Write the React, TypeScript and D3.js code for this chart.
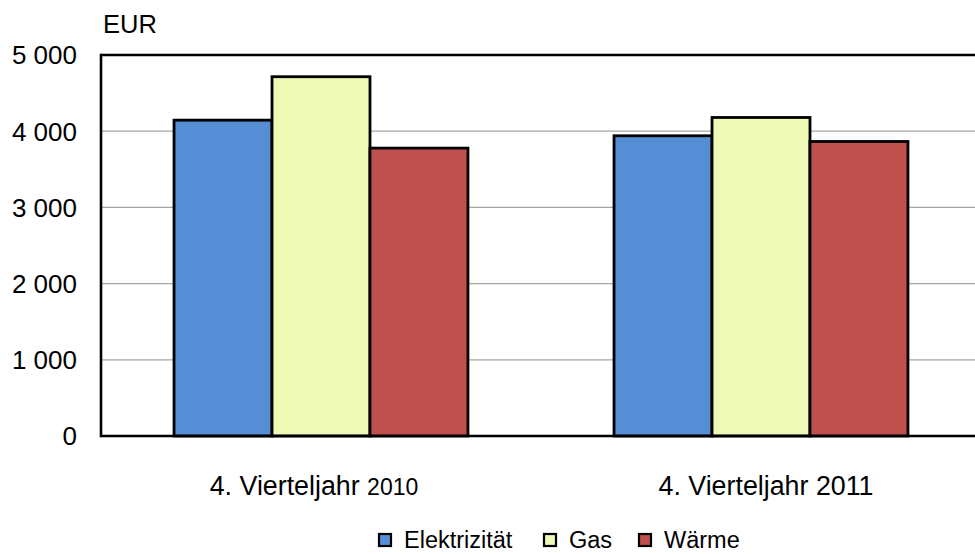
import React from "react";
import * as d3 from "d3";

const categories = ["4. Vierteljahr 2010", "4. Vierteljahr 2011"];
const seriesNames = ["Elektrizität", "Gas", "Wärme"];
const elektrizitaet = [4145, 3940];
const gas = [4715, 4180];
const waerme = [3778, 3865];
const yTicks = [0, 1000, 2000, 3000, 4000, 5000];

const colors = ["#558ed5", "#eff9b6", "#c0504d"];

const width = 975;
const height = 554;
const margin = { top: 55, right: -6, bottom: 118, left: 101 };

// small horizontal nudges of the category labels, as in the original
const labelShift = [-7, 5];

export default function App() {
  const values = [elektrizitaet, gas, waerme];

  const x0 = d3
    .scaleBand()
    .domain(categories)
    .range([margin.left, width - margin.right])
    .paddingInner(0.332)
    .paddingOuter(0.166);

  const x1 = d3
    .scaleBand()
    .domain(seriesNames)
    .range([0, x0.bandwidth()]);

  const y = d3
    .scaleLinear()
    .domain([0, 5000])
    .range([height - margin.bottom, margin.top]);

  const fmt = (v: number) => d3.format(",")(v).replace(",", " ");

  const legendX = [378, 543, 638];

  return (
    <svg
      width={width}
      height={height}
      style={{ position: "absolute", left: 0, top: 0 }}
      fontFamily="'Liberation Sans', Arial, sans-serif"
    >
      <rect width={width} height={height} fill="#ffffff" />
      {/* gridlines */}
      {yTicks.slice(1, -1).map((t) => (
        <line
          key={t}
          x1={margin.left}
          x2={width}
          y1={y(t)}
          y2={y(t)}
          stroke="#a6a6a6"
          strokeWidth={1.2}
        />
      ))}
      {/* tick labels */}
      {yTicks.map((t) => (
        <text
          key={t}
          x={77}
          y={y(t)}
          dy="0.36em"
          textAnchor="end"
          fontSize={26}
          fill="#000"
        >
          {fmt(t)}
        </text>
      ))}
      <text x={103} y={33} fontSize={25.5} fill="#000">
        EUR
      </text>
      {/* bars */}
      {categories.map((c, ci) => (
        <g key={c} transform={`translate(${x0(c)},0)`}>
          {seriesNames.map((s, si) => (
            <rect
              key={s}
              x={x1(s)}
              y={y(values[si][ci])}
              width={x1.bandwidth()}
              height={y(0) - y(values[si][ci])}
              fill={colors[si]}
              stroke="#000"
              strokeWidth={2.8}
            />
          ))}
        </g>
      ))}
      {/* frame */}
      <line x1={margin.left} x2={width} y1={y(5000)} y2={y(5000)} stroke="#000" strokeWidth={2.6} />
      <line x1={margin.left} x2={width} y1={y(0)} y2={y(0)} stroke="#000" strokeWidth={2.6} />
      <line x1={margin.left} x2={margin.left} y1={y(5000) - 1.3} y2={y(0) + 1.3} stroke="#000" strokeWidth={2.6} />
      {/* x labels */}
      {categories.map((c, ci) => {
        const parts = c.split(" ");
        const year = parts.pop();
        return (
          <text
            key={c}
            x={(x0(c) as number) + x0.bandwidth() / 2 + labelShift[ci]}
            y={495}
            textAnchor="middle"
            fontSize={26.8}
            fill="#000"
          >
            {parts.join(" ") + " "}
            <tspan fontSize={ci === 0 ? 23 : 26.8}>{year}</tspan>
          </text>
        );
      })}
      {/* legend */}
      {seriesNames.map((s, si) => (
        <g key={s} transform={`translate(${legendX[si]},533)`}>
          <rect x={1} y={1} width={12} height={12} fill={colors[si]} stroke="#000" strokeWidth={2.2} />
          <text x={26} y={14.5} fontSize={23.5} fill="#000">
            {s}
          </text>
        </g>
      ))}
    </svg>
  );
}
